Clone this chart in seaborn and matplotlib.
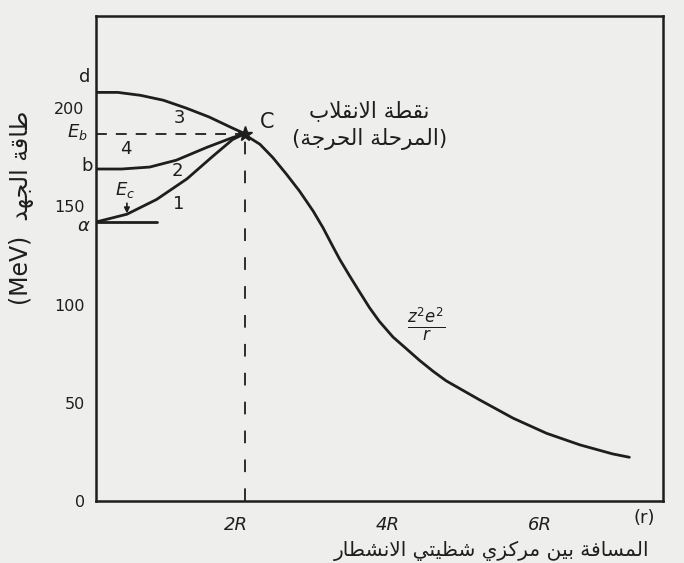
import numpy as np
import pandas as pd
import matplotlib.pyplot as plt
import seaborn as sns

# values (x in units of R, y in MeV)
r_main = [2.12, 2.18, 2.32, 2.49, 2.67, 2.84, 3.02, 3.15, 3.28, 3.37, 3.50, 3.63, 3.76,
          3.89, 4.07, 4.25, 4.42, 4.60, 4.77, 5.21, 5.65, 6.09, 6.53, 6.96, 7.18]
e_main = [187, 185, 181.6, 174.8, 166.3, 157.8, 147.6, 139.1, 129.5, 123, 114.6, 106.5, 98.5,
          91.5, 83.5, 77.4, 71.6, 66, 61.2, 51.5, 42.2, 34.5, 28.6, 24, 22.3]

r_d = [0.16, 0.45, 0.75, 1.05, 1.35, 1.65, 1.95, 2.12]
e_d = [208, 208, 206.5, 204, 200, 195.5, 190, 187]

r_b = [0.16, 0.50, 0.87, 1.22, 1.62, 1.96, 2.12]
e_b = [169, 169, 170, 173.5, 180, 185, 187]

r_a = [0.16, 0.57, 0.96, 1.36, 1.70, 1.96, 2.12]
e_a = [142, 146, 153.5, 164, 175.5, 184, 187]

point_c = (2.12, 187)
level_a = 142
ytick_vals = [0, 50, 100, 150, 200]
xtick_vals = [1, 2, 3, 4, 5, 6, 7]
xtick_labels = ['', '2R', '', '4R', '', '6R', '']

# --- tiny arabic shaper (matplotlib has no bidi / joining) ---
DUAL = {'ب': 0xFE8F, 'ت': 0xFE95, 'ج': 0xFE9D, 'ح': 0xFEA1, 'س': 0xFEB1, 'ش': 0xFEB5,
        'ط': 0xFEC1, 'ظ': 0xFEC5, 'ف': 0xFED1, 'ق': 0xFED5, 'ك': 0xFED9, 'ل': 0xFEDD,
        'م': 0xFEE1, 'ن': 0xFEE5, 'ه': 0xFEE9, 'ي': 0xFEF1}
RIGHT = {'ا': 0xFE8D, 'ة': 0xFE93, 'د': 0xFEA9, 'ر': 0xFEAD, 'ز': 0xFEAF}


def ar(s):
    ch = list(s)
    n = len(ch)
    out = []
    i = 0
    while i < n:
        c = ch[i]
        p = i > 0 and ch[i - 1] in DUAL
        if c == 'ل' and i + 1 < n and ch[i + 1] == 'ا':
            out.append('\uFEFC' if p else '\uFEFB')
            i += 2
            continue
        if c in DUAL:
            nx = i + 1 < n and (ch[i + 1] in DUAL or ch[i + 1] in RIGHT)
            out.append(chr(DUAL[c] + (3 if p and nx else 1 if p else 2 if nx else 0)))
        elif c in RIGHT:
            out.append(chr(RIGHT[c] + (1 if p else 0)))
        else:
            out.append(c)
        i += 1
    return ''.join(reversed(out))


sns.set_theme(style='white')
plt.rcParams['font.family'] = ['DejaVu Sans']
bg = '#eeeeec'
ink = '#1e1e1e'

fig = plt.figure(figsize=(6.84, 5.63), dpi=100, facecolor=bg)
ax = fig.add_axes([0.140, 0.110, 0.829, 0.862])
ax.set_facecolor(bg)

lw = 2.0
for xs, ys in [(r_main, e_main), (r_d, e_d), (r_b, e_b), (r_a, e_a)]:
    sns.lineplot(x=xs, y=ys, ax=ax, color=ink, linewidth=lw, sort=True)

# base line at alpha level
sns.lineplot(x=[r_a[0], 0.96], y=[level_a, level_a], ax=ax, color=ink, linewidth=lw)

# dashed guides to C
ax.plot([0.16, point_c[0]], [point_c[1], point_c[1]], color=ink, lw=1.3, ls=(0, (6, 5)))
ax.plot([point_c[0], point_c[0]], [0, point_c[1]], color=ink, lw=1.3, ls=(0, (7, 9)))
ax.plot(*point_c, marker='*', ms=11, color=ink)

# small arrow on curve 1 (E_c)
ax.annotate('', xy=(0.57, 145), xytext=(0.57, 153),
            arrowprops=dict(arrowstyle='-|>', color=ink, lw=1.2, mutation_scale=8))

ax.set_xlim(0.16, 7.62)
ax.set_ylim(0, 247)
ax.set_yticks(ytick_vals)
ax.set_yticklabels([str(v) for v in ytick_vals], fontsize=11.5, color=ink)
ax.set_xticks(xtick_vals)
ax.set_xticklabels(xtick_labels, fontsize=13, color=ink, style='italic')
ax.tick_params(axis='both', direction='in', length=7, width=1.6, color=ink)
ax.tick_params(axis='x', pad=11)
ax.tick_params(axis='y', pad=8)
for s in ax.spines.values():
    s.set_color(ink)
    s.set_linewidth(1.8)

fs = 13
kw = dict(color=ink, fontsize=fs, ha='center', va='center', clip_on=False)
ax.text(0.01, 216, 'd', **kw)
ax.text(-0.08, 188, '$E_b$', **kw)
ax.text(0.04, 170.5, 'b', **kw)
ax.text(0.0, 140, r'$\alpha$', **kw)
ax.text(0.55, 179, '4', **kw)
ax.text(1.26, 195, '3', **kw)
ax.text(1.24, 168, '2', **kw)
ax.text(0.54, 158.5, '$E_c$', **kw)
ax.text(1.25, 151, '1', **kw)
ax.text(2.41, 193, 'C', color=ink, fontsize=15, ha='center', va='center')
ax.text(3.76, 198.5, ar('نقطة الانقلاب'), color=ink, fontsize=15.5, ha='center', va='center')
ax.text(3.76, 184.5, '(' + ar('المرحلة الحرجة') + ')', color=ink, fontsize=15.5,
        ha='center', va='center')
ax.text(4.51, 90, r'$\frac{z^2e^2}{r}$', color=ink, fontsize=17, ha='center', va='center')
ax.text(7.38, -8.5, '(r)', **kw)

fig.text(0.718, 0.021, ar('المسافة بين مركزي شظيتي الانشطار'), color=ink, fontsize=14.5,
         ha='center', va='center')
fig.text(0.032, 0.63, '(MeV)  ' + ar('طاقة الجهد'), color=ink, fontsize=17,
         ha='center', va='center', rotation=90)

fig.savefig('out.png', dpi=100, facecolor=bg)
